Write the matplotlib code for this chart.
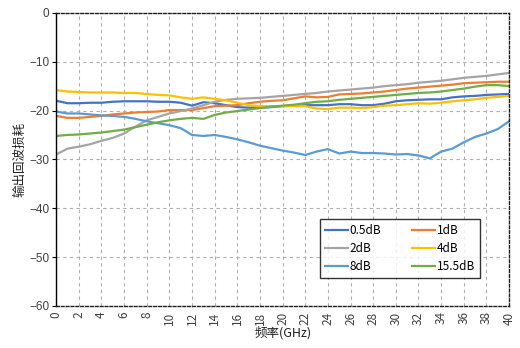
import matplotlib
matplotlib.use("Agg")
import matplotlib.pyplot as plt
import numpy as np

plt.rcParams['font.family'] = ['Noto Sans CJK SC', 'DejaVu Sans']

freq = list(range(0, 41))
tick_x = list(range(0, 41, 2))
tick_y = list(range(-60, 1, 10))

s_05 = [-18.0, -18.5, -18.5, -18.4, -18.4, -18.2, -18.1, -18.1, -18.1, -18.2,
        -18.2, -18.4, -19.0, -18.3, -18.5, -18.9, -19.3, -19.4, -19.4, -19.3,
        -19.1, -19.0, -18.9, -18.9, -18.9, -18.7, -18.7, -18.9, -18.9, -18.6,
        -18.1, -17.9, -17.8, -17.7, -17.7, -17.3, -17.1, -17.0, -16.8, -16.7, -16.6]
s_1 = [-21.1, -21.5, -21.5, -21.3, -21.1, -20.8, -20.6, -20.4, -20.3, -20.2,
       -19.9, -19.9, -19.9, -19.5, -19.1, -19.0, -18.9, -18.5, -18.2, -18.0,
       -17.9, -17.5, -17.1, -17.3, -17.2, -16.7, -16.6, -16.5, -16.3, -16.1,
       -15.8, -15.5, -15.3, -15.1, -14.9, -14.7, -14.4, -14.3, -14.2, -14.1, -14.1]
s_2 = [-29.0, -27.8, -27.4, -26.9, -26.2, -25.6, -24.7, -23.3, -22.0, -21.3,
       -20.6, -20.1, -19.6, -18.9, -18.2, -17.8, -17.6, -17.5, -17.4, -17.2,
       -17.0, -16.8, -16.6, -16.4, -16.1, -15.9, -15.7, -15.5, -15.3, -15.0,
       -14.8, -14.6, -14.3, -14.1, -13.9, -13.6, -13.3, -13.1, -12.9, -12.6, -12.3]
s_4 = [-15.8, -16.1, -16.2, -16.3, -16.3, -16.3, -16.4, -16.4, -16.6, -16.8,
       -16.9, -17.3, -17.6, -17.3, -17.6, -17.9, -18.4, -18.9, -19.1, -19.1,
       -19.1, -19.1, -19.1, -19.6, -19.7, -19.4, -19.4, -19.5, -19.3, -19.0,
       -18.9, -18.7, -18.5, -18.6, -18.4, -18.1, -17.9, -17.7, -17.4, -17.2, -17.0]
s_8 = [-20.2, -20.6, -20.6, -20.8, -21.0, -21.1, -21.3, -21.7, -22.2, -22.6,
       -23.0, -23.6, -25.0, -25.2, -25.0, -25.4, -25.9, -26.5, -27.2, -27.7,
       -28.2, -28.6, -29.1, -28.4, -27.9, -28.8, -28.4, -28.7, -28.7, -28.8,
       -29.0, -28.9, -29.2, -29.8, -28.4, -27.8, -26.5, -25.4, -24.7, -23.8, -22.2]
s_155 = [-25.2, -25.0, -24.9, -24.7, -24.5, -24.2, -23.9, -23.4, -22.9, -22.4,
         -22.0, -21.7, -21.5, -21.7, -20.9, -20.4, -20.1, -19.8, -19.5, -19.2,
         -19.0, -18.8, -18.5, -18.2, -18.1, -17.8, -17.6, -17.4, -17.2, -17.0,
         -16.8, -16.6, -16.4, -16.3, -16.1, -15.8, -15.5, -15.1, -14.8, -14.8, -15.0]

labels = ['0.5dB', '1dB', '2dB', '4dB', '8dB', '15.5dB']
colors = ['#4472C4', '#ED7D31', '#A5A5A5', '#FFC000', '#5B9BD5', '#70AD47']
series = [s_05, s_1, s_2, s_4, s_8, s_155]

fig = plt.figure(figsize=(5.2, 3.48), dpi=100)
ax = fig.add_axes([0.108, 0.121, 0.871, 0.842])

handles = []
for ys, lab, c in zip(series, labels, colors):
    h, = ax.plot(freq, ys, color=c, lw=1.6, label=lab)
    handles.append(h)

ax.set_xlim(0, 40)
ax.set_ylim(-60, 0)
ax.set_xticks(tick_x)
ax.set_yticks(tick_y)
ax.set_xticklabels([str(t) for t in tick_x], rotation=90, fontsize=8.5,
                   color='#404040', family=['Noto Sans CJK SC', 'DejaVu Sans'])
ax.set_yticklabels([str(t).replace('-', '\u2212') for t in tick_y], fontsize=8.5,
                   color='#404040', family=['Liberation Sans', 'DejaVu Sans'])
ax.grid(True, color='#b0b0b0', ls=(0, (3, 3)), lw=0.8)
ax.tick_params(axis='x', length=0, pad=4)
ax.tick_params(axis='y', length=3, width=0.8, color='black', pad=2)

for side in ['top', 'right', 'bottom']:
    ax.spines[side].set_linestyle((0, (2, 1.5)))
    ax.spines[side].set_linewidth(1.0)
    ax.spines[side].set_color('#202020')
ax.spines['left'].set_linewidth(1.0)
ax.spines['left'].set_color('black')

ax.set_xlabel('频率(GHz)', fontsize=9, color='#202020', labelpad=1)
ax.set_ylabel('输出回波损耗', fontsize=9, color='#202020', labelpad=2)

order = [0, 2, 4, 1, 3, 5]
leg = ax.legend([handles[i] for i in order], [labels[i] for i in order],
                ncol=2, loc='lower right', bbox_to_anchor=(0.935, 0.095),
                fontsize=8.5, frameon=True, fancybox=False, handlelength=2.0,
                handletextpad=0.1, columnspacing=2.6, labelspacing=0.45,
                borderpad=0.4, borderaxespad=0)
leg.get_frame().set_edgecolor('black')
leg.get_frame().set_linewidth(1.0)

fig.savefig('out.png', dpi=100)
